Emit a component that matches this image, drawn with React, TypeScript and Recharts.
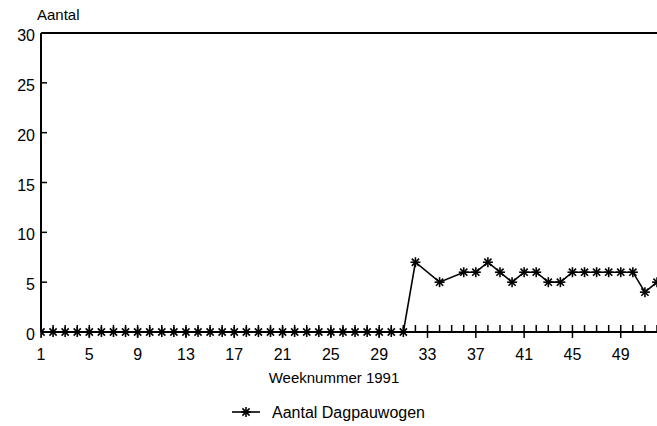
import React from 'react';
import { LineChart, Line, XAxis, YAxis, ReferenceLine, Legend } from 'recharts';

const weeks = [1, 2, 3, 4, 5, 6, 7, 8, 9, 10, 11, 12, 13, 14, 15, 16, 17, 18, 19, 20, 21, 22, 23, 24, 25, 26, 27, 28, 29, 30, 31, 32, 33, 34, 35, 36, 37, 38, 39, 40, 41, 42, 43, 44, 45, 46, 47, 48, 49, 50, 51, 52];
const aantal: (number | null)[] = [0, 0, 0, 0, 0, 0, 0, 0, 0, 0, 0, 0, 0, 0, 0, 0, 0, 0, 0, 0, 0, 0, 0, 0, 0, 0, 0, 0, 0, 0, 0, 7, null, 5, null, 6, 6, 7, 6, 5, 6, 6, 5, 5, 6, 6, 6, 6, 6, 6, 4, 5];
const xTickLabels = [1, 5, 9, 13, 17, 21, 25, 29, 33, 37, 41, 45, 49];
const yTicks = [0, 5, 10, 15, 20, 25, 30];
const seriesName = 'Aantal Dagpauwogen';
const xTitle = 'Weeknummer 1991';
const yTitle = 'Aantal';

const data = weeks.map((w, i) => ({ week: w, aantal: aantal[i] }));

const FONT = '"Liberation Sans", Arial, Helvetica, sans-serif';
const FS = 15;
const TICK_FS = 16;

function Star({ cx, cy, r = 5 }: { cx: number; cy: number; r?: number }) {
  const d = r * 0.72;
  return (
    <g stroke="#000" strokeWidth={1.6}>
      <line x1={cx - r} y1={cy} x2={cx + r} y2={cy} />
      <line x1={cx} y1={cy - r} x2={cx} y2={cy + r} />
      <line x1={cx - d} y1={cy - d} x2={cx + d} y2={cy + d} />
      <line x1={cx - d} y1={cy + d} x2={cx + d} y2={cy - d} />
    </g>
  );
}

const StarDot = (props: any) => {
  const { cx, cy, value, index } = props;
  if (value == null || cx == null || cy == null) return <g key={`d${index}`} />;
  return <g key={`d${index}`}><Star cx={cx} cy={cy} /></g>;
};

const XTick = (props: any) => {
  const { x, y, payload } = props;
  const labeled = xTickLabels.includes(payload.value);
  return (
    <g>
      <line x1={x} x2={x} y1={y - 7} y2={labeled ? y + 6 : y} stroke="#000" strokeWidth={1.5} />
      {labeled && (
        <text x={x} y={y + 28} textAnchor="middle" fontFamily={FONT} fontSize={TICK_FS} fill="#000">
          {payload.value}
        </text>
      )}
    </g>
  );
};

const YTick = (props: any) => {
  const { x, y, payload } = props;
  return (
    <g>
      {payload.value !== 0 && payload.value !== 30 && (
        <line x1={x} x2={x + 6} y1={y} y2={y} stroke="#000" strokeWidth={1.5} />
      )}
      <text x={x - 6} y={y + 8} textAnchor="end" fontFamily={FONT} fontSize={TICK_FS} fill="#000">
        {payload.value}
      </text>
    </g>
  );
};

const LegendContent = () => (
  <svg width={657} height={44} style={{ display: 'block' }}>
    <line x1={232} x2={260} y1={30} y2={30} stroke="#000" strokeWidth={1.6} />
    <Star cx={246} cy={30} />
    <text x={272} y={36} fontFamily={FONT} fontSize={16} fill="#000">{seriesName}</text>
  </svg>
);

export default function App() {
  return (
    <div style={{ position: 'absolute', left: 0, top: 0, width: 657, height: 426, background: '#fff', overflow: 'hidden' }}>
      <LineChart width={657} height={426} data={data} margin={{ top: 33, right: 0, bottom: 0, left: 0 }}>
        <XAxis
          dataKey="week"
          type="number"
          domain={[1, 52]}
          ticks={weeks}
          interval={0}
          tickLine={false}
          tickSize={0}
          tickMargin={0}
          height={50}
          axisLine={{ stroke: '#000', strokeWidth: 2 }}
          tick={<XTick />}
          allowDataOverflow
          label={(p: any) => {
            const vb = p.viewBox;
            return (
              <text x={334} y={vb.y + vb.height + 1} textAnchor="middle" fontFamily={FONT} fontSize={FS} fill="#000">
                {xTitle}
              </text>
            );
          }}
        />
        <YAxis
          type="number"
          domain={[0, 30]}
          ticks={yTicks}
          interval={0}
          width={41}
          tickLine={false}
          tickSize={0}
          tickMargin={0}
          axisLine={{ stroke: '#000', strokeWidth: 2 }}
          tick={<YTick />}
        />
        <ReferenceLine
          y={30}
          stroke="#000"
          strokeWidth={2}
          ifOverflow="extendDomain"
          label={(p: any) => {
            const vb = p.viewBox;
            return (
              <text x={vb.x - 4} y={vb.y - 13} fontFamily={FONT} fontSize={FS} fill="#000">
                {yTitle}
              </text>
            );
          }}
        />
        <Legend verticalAlign="bottom" height={44} content={<LegendContent />} />
        <Line
          type="linear"
          dataKey="aantal"
          name={seriesName}
          stroke="#000"
          strokeWidth={1.6}
          connectNulls
          dot={StarDot}
          activeDot={false}
          isAnimationActive={false}
        />
      </LineChart>
    </div>
  );
}
